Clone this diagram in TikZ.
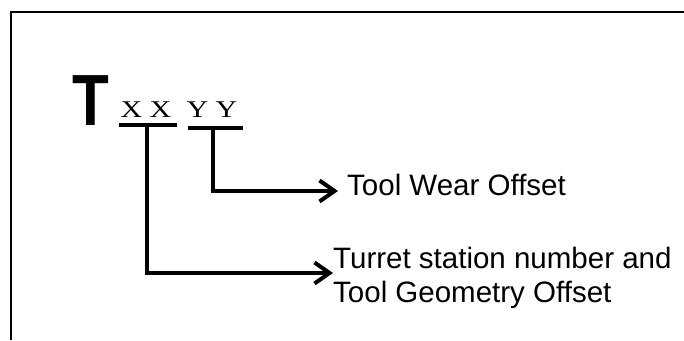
\documentclass[tikz,border=0pt]{standalone}
\usepackage{fontspec}
\setmainfont{Liberation Sans}
\newfontfamily\codefont{Liberation Serif}
\usetikzlibrary{arrows.meta}
\begin{document}
\begin{tikzpicture}[
x=1pt, y=-1pt,
frame/.style={line width=2.4pt},
code/.style={inner sep=0pt, font=\codefont\fontsize{24}{28}\selectfont},
bar/.style={line width=3.5pt},
note/.style={inner sep=0pt, align=left, font=\fontsize{29.5}{34}\selectfont},
arrow/.style={-{Straight Barb[length=15pt,width=21pt,line width=4pt]}, line width=3.5pt}
]
\useasboundingbox (0,0) rectangle (684,340);
\draw[frame] (11,340) -- (11,12) -- (684,12);
\node[inner sep=0pt, font=\bfseries\fontsize{72.5}{80}\selectfont] (tee) at (91,101) {\scalebox{0.83}[1]{T}};
\node[code] (xx) at (146,110) {\scalebox{1.25}[1]{X X}};
\node[code] (yy) at (212,110) {\scalebox{1.25}[1]{Y Y}};
\draw[bar] (119,125) -- (177,125);
\draw[bar] (188,128) -- (243,128);
\coordinate (xxbar) at (147,125);
\coordinate (yybar) at (213,128);
\node[note, anchor=west] (wear) at (347,185) {Tool Wear Offset};
\node[note, anchor=west] (geom) at (333,278) {Turret station number and\\Tool Geometry Offset};
\draw[arrow] (yybar) |- ([xshift=-9pt,yshift=-6pt]wear.west);
\draw[arrow] (xxbar) |- ([yshift=5pt]geom.west);
\end{tikzpicture}
\end{document}
